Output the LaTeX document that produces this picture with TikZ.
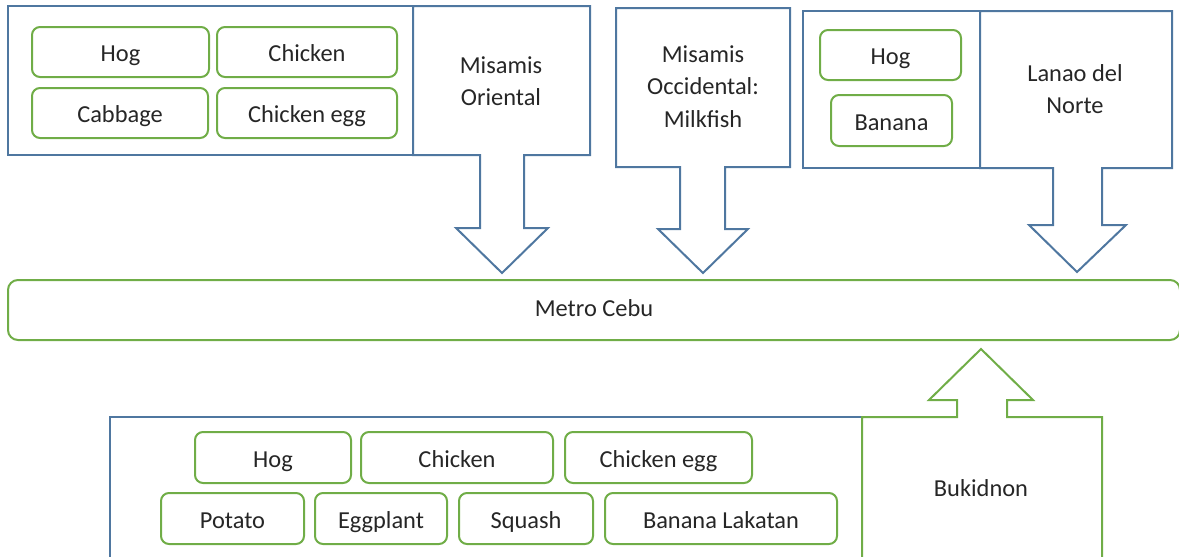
\documentclass[tikz,border=0pt]{standalone}
\usepackage{fontspec}
\setmainfont{Carlito}
\begin{document}
\definecolor{frameblue}{HTML}{4F77A0}
\definecolor{leafgreen}{HTML}{70AD47}
\definecolor{inkgray}{HTML}{262626}
\begin{tikzpicture}[x=1pt,y=-1pt,
  every node/.style={text=inkgray,font=\fontsize{24.4}{32.5}\selectfont},
  gbox/.style={draw=leafgreen,line width=2pt,rounded corners=8pt,inner sep=0pt,align=center,
    text height=19pt,text depth=0pt},
  bframe/.style={draw=frameblue,line width=2pt,line join=miter},
  gframe/.style={draw=leafgreen,line width=2pt,line join=miter},
  label/.style={align=center,inner sep=0pt}]
\useasboundingbox (0,0) rectangle (1179,557);
\clip (0,0) rectangle (1179,557);

% --- Misamis Oriental group
\node[bframe,minimum width=405pt,minimum height=149pt,inner sep=0pt] (moGroup) at (210.5,80.5) {};
\node[gbox,minimum width=177pt,minimum height=50pt] (moHog) at (120.5,52) {Hog};
\node[gbox,minimum width=180pt,minimum height=50pt] (moChicken) at (307,52) {Chicken};
\node[gbox,minimum width=176pt,minimum height=50pt] (moCabbage) at (120,113) {Cabbage};
\node[gbox,minimum width=180pt,minimum height=50pt] (moEgg) at (307,113) {Chicken egg};
\draw[bframe] (413,6) -- (590,6) -- (590,155) -- (524,155) -- (524,228) -- (548,228)
  -- (502,273) -- (456,228) -- (480,228) -- (480,155) -- (413,155) -- cycle;
\node[label] (moName) at (501,81) {Misamis\\Oriental};

% --- Misamis Occidental
\draw[bframe] (616,8) -- (790,8) -- (790,167) -- (725,167) -- (725,229) -- (748,229)
  -- (703,273) -- (658,229) -- (680,229) -- (680,167) -- (616,167) -- cycle;
\node[label] (mocName) at (703,86.5) {Misamis\\Occidental:\\Milkfish};

% --- Lanao del Norte group
\node[bframe,minimum width=177pt,minimum height=157pt,inner sep=0pt] (lnGroup) at (891.5,89.5) {};
\node[gbox,minimum width=141pt,minimum height=50pt] (lnHog) at (890.5,55) {Hog};
\node[gbox,minimum width=121pt,minimum height=51pt] (lnBanana) at (891.5,120.5) {Banana};
\draw[bframe] (980,11) -- (1172,11) -- (1172,168) -- (1102,168) -- (1102,225) -- (1126,225)
  -- (1077,272) -- (1029,225) -- (1053,225) -- (1053,168) -- (980,168) -- cycle;
\node[label] (lnName) at (1075,89) {Lanao del\\Norte};

% --- Metro Cebu
\node[gbox,rounded corners=10pt,minimum width=1172pt,minimum height=60pt] (cebu) at (594,310) {};
\node[label] (cebuName) at (594,308) {Metro Cebu};

% --- Bukidnon group
\draw[bframe] (862,417) -- (110,417) -- (110,575);
\node[gbox,minimum width=156pt,minimum height=51pt] (bkHog) at (273,457.5) {Hog};
\node[gbox,minimum width=192pt,minimum height=51pt] (bkChicken) at (457,457.5) {Chicken};
\node[gbox,minimum width=187pt,minimum height=51pt] (bkEgg) at (658.5,457.5) {Chicken egg};
\node[gbox,minimum width=143pt,minimum height=51pt] (bkPotato) at (232.5,518.5) {Potato};
\node[gbox,minimum width=132pt,minimum height=51pt] (bkEggplant) at (381,518.5) {Eggplant};
\node[gbox,minimum width=134pt,minimum height=51pt] (bkSquash) at (526,518.5) {Squash};
\node[gbox,minimum width=232pt,minimum height=51pt] (bkBanana) at (721,518.5) {Banana Lakatan};
\draw[gframe] (862,575) -- (862,417) -- (957,417) -- (957,400) -- (929,400) -- (981,349)
  -- (1033,400) -- (1007,400) -- (1007,417) -- (1102,417) -- (1102,575);
\node[label] (bkName) at (981,488) {Bukidnon};
\end{tikzpicture}
\end{document}
